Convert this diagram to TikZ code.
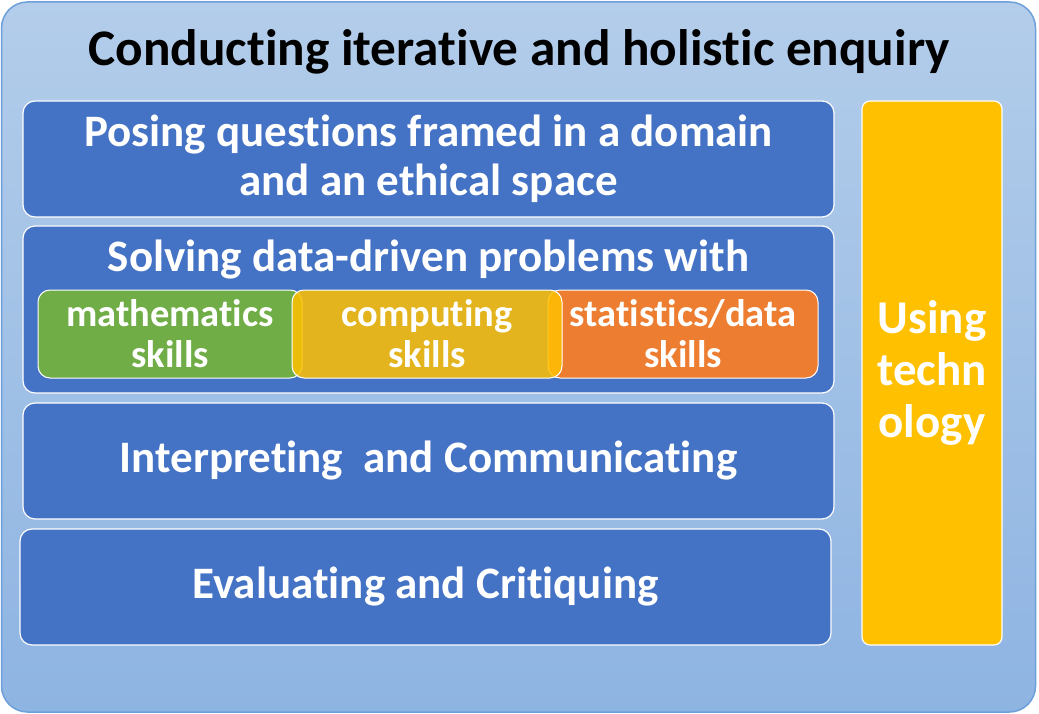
\documentclass[tikz,border=0pt]{standalone}
\usepackage{fontspec}
\setmainfont{Carlito}[Ligatures=NoCommon]
\definecolor{myblue}{HTML}{4472C4}
\definecolor{myyellow}{HTML}{FFC000}
\definecolor{mygreen}{HTML}{70AD47}
\definecolor{myorange}{HTML}{ED7D31}
\definecolor{outtop}{HTML}{B3CDEA}
\definecolor{outbot}{HTML}{8EB4E2}
\definecolor{outline}{HTML}{6E9FDA}
\tikzset{
  panel/.style={draw=white, line width=1.2pt, fill=myblue, rounded corners=12pt, inner sep=0pt},
  skill/.style={draw=white, line width=1pt, rounded corners=12pt, inner sep=0pt, minimum height=88pt, text=white, align=center, font=\bfseries\fontsize{38.5}{41}\selectfont},
  big/.style={text=white, align=center, font=\bfseries\fontsize{45}{49}\selectfont},
}
\begin{document}
\begin{tikzpicture}[x=1pt,y=-1pt]
\useasboundingbox (0,0) rectangle (1039,714);
\node[draw=outline, line width=1.5pt, rounded corners=26pt, top color=outtop, bottom color=outbot, minimum width=1034pt, minimum height=710pt, inner sep=0pt] (frame) at (518.5,357) {};
\node[font=\bfseries\fontsize{51.3}{56}\selectfont, text=black] (title) at (519,52) {Conducting iterative and holistic enquiry};
\node[panel, big, minimum width=811pt, minimum height=116pt] (pose) at (428.5,159) {Posing questions framed in a domain\\and an ethical space};
\node[panel, minimum width=811pt, minimum height=167pt] (solve) at (428.5,309.5) {};
\node[big] (solvet) at (428.5,260) {Solving data-driven problems with};
\node[skill, fill=mygreen, minimum width=264pt] (math) at (170,334) {mathematics\\skills};
\node[skill, fill=myorange, minimum width=270pt] (stat) at (683,334) {statistics/data\\skills};
\node[skill, fill=myyellow, fill opacity=0.85, text opacity=1, minimum width=270pt] (comp) at (427,334) {computing\\skills};
\node[panel, big, minimum width=811pt, minimum height=116pt] (interp) at (428.5,461) {Interpreting\ \ and Communicating};
\node[panel, big, minimum width=811pt, minimum height=116pt] (eval) at (425.5,587) {Evaluating and Critiquing};
\node[draw=white, line width=1.2pt, fill=myyellow, rounded corners=8pt, inner sep=0pt, minimum width=140pt, minimum height=544pt, text=white, align=center, font=\bfseries\fontsize{47}{52}\selectfont] (tech) at (932,373) {Using\\techn\\ology};
\end{tikzpicture}
\end{document}
